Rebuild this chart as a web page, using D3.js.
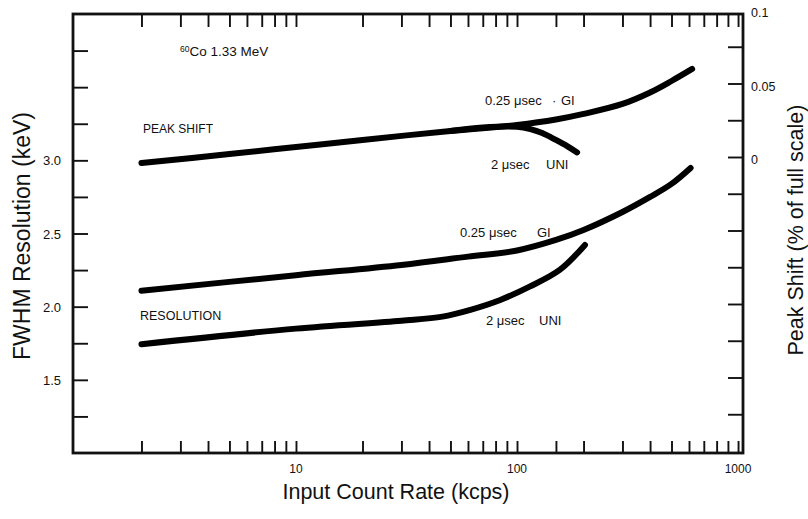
<!DOCTYPE html>
<html><head><meta charset="utf-8">
<script src="https://cdn.jsdelivr.net/npm/d3@7/dist/d3.min.js"></script>
<style>body{margin:0;background:#fff}svg{display:block}</style>
</head><body><svg id="c" width="808" height="519"></svg>
<script>
// ---- data ----
const xTicks = [2,3,4,5,6,7,8,9,10,20,30,40,50,60,70,80,90,100,150,200,300,400,500,600,700,800,900,1000];
const xLabels = [10,100,1000];
const leftTicks = [1.25,1.5,1.75,2.0,2.25,2.5,2.75,3.0,3.25,3.5,3.75];
const leftLabels = [1.5,2.0,2.5,3.0];
const rightTicks = [-0.175,-0.15,-0.125,-0.1,-0.075,-0.05,-0.025,0,0.025,0.05,0.075];
const rightLabels = [0,0.05,0.1];

// Peak shift (% of full scale) vs input count rate (kcps)
const shiftGI_rate = [2,5,10,20,50,100,150,200,300,400,500,620];
const shiftGI_val  = [-0.0041,0.0020,0.0068,0.0116,0.0177,0.0218,0.0255,0.0293,0.0361,0.0439,0.0517,0.0599];
const shiftUNI_rate = [50,70,100,115,130,150,170,187];
const shiftUNI_val  = [0.0177,0.0201,0.0206,0.0190,0.0163,0.0116,0.0071,0.0031];
// FWHM resolution (keV) vs input count rate (kcps)
const resGI_rate = [2,10,30,60,100,150,200,300,400,500,610];
const resGI_val  = [2.109,2.215,2.285,2.342,2.384,2.456,2.524,2.647,2.750,2.839,2.948];
const resUNI_rate = [2,10,30,46,61,84,114,156,203];
const resUNI_val  = [1.743,1.850,1.904,1.932,1.977,2.046,2.137,2.251,2.422];

// ---- drawing ----
(function () {
const svg = d3.select("#c");
const F = "'Liberation Sans', Arial, Helvetica, sans-serif";
const L = 73, R = 743, T = 14, B = 453;
const x = d3.scaleLog().domain([0.98, 1053]).range([L, R]);
const yL = d3.scaleLinear().domain([1.0, 4.0]).range([B, T]);
const yR = d3.scaleLinear().domain([-0.2, 0.1]).range([451, 10]);

const g = svg.append("g");
g.append("g").attr("transform", `translate(0,${B})`)
  .call(d3.axisBottom(x).tickValues(xTicks).tickSizeInner(-12).tickSizeOuter(0).tickFormat(""));
g.append("g").attr("transform", `translate(0,${T})`)
  .call(d3.axisTop(x).tickValues(xTicks).tickSizeInner(-13).tickSizeOuter(0).tickFormat(""));
g.append("g").attr("transform", `translate(${L},0)`)
  .call(d3.axisLeft(yL).tickValues(leftTicks).tickSizeInner(-15).tickSizeOuter(0).tickFormat(""));
g.append("g").attr("transform", `translate(${R},0)`)
  .call(d3.axisRight(yR).tickValues(rightTicks).tickSizeInner(-15).tickSizeOuter(0).tickFormat(""));
g.selectAll(".domain").remove();
g.selectAll(".tick line").attr("stroke", "#111").attr("stroke-width", 1.9);

// frame
svg.append("rect").attr("x", L).attr("y", T).attr("width", R - L).attr("height", B - T)
  .attr("fill", "none").attr("stroke", "#111").attr("stroke-width", 2.8);

// tick labels
svg.selectAll(".xl").data(xLabels).enter().append("text")
  .attr("x", d => x(d)).attr("y", 473).attr("text-anchor", "middle")
  .attr("font-family", F).attr("font-size", 12).attr("fill", "#111").text(d => d);
svg.selectAll(".ll").data(leftLabels).enter().append("text")
  .attr("x", 61).attr("y", d => yL(d) + 5).attr("text-anchor", "end")
  .attr("font-family", F).attr("font-size", 13).attr("fill", "#111").text(d => d3.format(".1f")(d));
svg.selectAll(".rl").data(rightLabels).enter().append("text")
  .attr("x", 751).attr("y", d => yR(d) + 7).attr("text-anchor", "start")
  .attr("font-family", F).attr("font-size", 12.5).attr("fill", "#111").text(d => d === 0 ? "0" : String(d));

// curves
const lineR = d3.line().x(d => x(d[0])).y(d => yR(d[1])).curve(d3.curveCatmullRom.alpha(0.5));
const lineL = d3.line().x(d => x(d[0])).y(d => yL(d[1])).curve(d3.curveCatmullRom.alpha(0.5));
const zip = (a, b) => a.map((v, i) => [v, b[i]]);
const curves = [
  [lineR, zip(shiftGI_rate, shiftGI_val)],
  [lineR, zip(shiftUNI_rate, shiftUNI_val)],
  [lineL, zip(resGI_rate, resGI_val)],
  [lineL, zip(resUNI_rate, resUNI_val)]
];
curves.forEach(([ln, pts]) => {
  svg.append("path").attr("d", ln(pts)).attr("fill", "none").attr("stroke", "#000")
    .attr("stroke-width", 6).attr("stroke-linecap", "round").attr("stroke-linejoin", "round");
});

// annotations: each is a list of [x, text] pieces on one baseline
function ann(ty, pieces, size) {
  const t = svg.append("text").attr("y", ty).attr("font-family", F)
    .attr("font-size", size || 13).attr("fill", "#111");
  pieces.forEach(([px, s]) => t.append("tspan").attr("x", px).text(s));
  return t;
}
const co = svg.append("text").attr("x", 180).attr("y", 56).attr("font-family", F)
  .attr("font-size", 13.5).attr("fill", "#111");
co.append("tspan").attr("font-size", 8.5).attr("dy", -4).text("60");
co.append("tspan").attr("dy", 4).text("Co 1.33 MeV");
ann(132.5, [[143, "PEAK SHIFT"]], 12);
ann(104.5, [[485, "0.25 \u03bcsec"], [552, "\u00b7"], [561, "GI"]]);
ann(168.5, [[491, "2 \u03bcsec"], [546, "UNI"]]);
ann(237, [[460, "0.25 \u03bcsec"], [537, "GI"]]);
ann(325, [[486, "2 \u03bcsec"], [539, "UNI"]]);
ann(320, [[140, "RESOLUTION"]], 12.5);

// axis titles
svg.append("text").attr("transform", "translate(30,236) rotate(-90)").attr("text-anchor", "middle")
  .attr("font-family", F).attr("font-size", 23).attr("fill", "#111").text("FWHM Resolution (keV)");
svg.append("text").attr("transform", "translate(803,230) rotate(-90)").attr("text-anchor", "middle")
  .attr("font-family", F).attr("font-size", 21.5).attr("fill", "#111").text("Peak Shift (% of full scale)");
svg.append("text").attr("x", 396).attr("y", 499).attr("text-anchor", "middle")
  .attr("font-family", F).attr("font-size", 21.5).attr("fill", "#111").text("Input Count Rate (kcps)");
})();
</script>
</body></html>
